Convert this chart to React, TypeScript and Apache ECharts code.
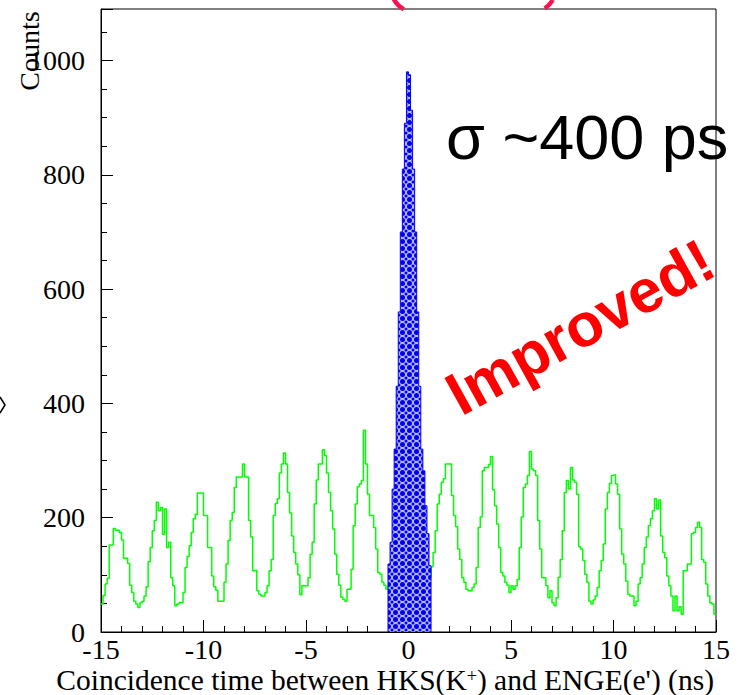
import React, { useEffect, useRef } from 'react';
import * as echarts from 'echarts';

// Histogram binning (ns)
const BIN_WIDTH = 0.1;
const GREEN_START = -15;
const BLUE_START = -1.0;

// All coincidences (green), 300 bins of 0.1 ns from -15 to 15
const greenCounts = [
  49, 64, 84, 94, 152, 152, 181, 178, 178, 174,
  161, 129, 129, 120, 82, 69, 54, 49, 43, 51,
  54, 63, 79, 123, 148, 177, 195, 227, 212, 218,
  171, 215, 148, 157, 95, 81, 46, 49, 51, 51,
  69, 113, 132, 151, 174, 198, 206, 243, 243, 243,
  204, 204, 148, 148, 98, 79, 73, 54, 54, 54,
  87, 119, 160, 195, 209, 253, 271, 271, 271, 294,
  271, 271, 195, 166, 107, 108, 72, 66, 63, 63,
  69, 81, 107, 127, 204, 225, 233, 278, 294, 313,
  294, 244, 208, 168, 139, 119, 100, 65, 81, 81,
  81, 95, 136, 157, 224, 266, 294, 294, 319, 309,
  278, 244, 212, 180, 136, 101, 82, 61, 57, 54,
  75, 75, 110, 186, 224, 254, 259, 265, 353, 294,
  241, 204, 204, 183, 145, 104, 101, 87, 82, 75,
  80, 84, 88, 92, 95, 98, 100, 100, 100, 100,
  100, 100, 100, 100, 100, 100, 98, 98, 97, 96,
  96, 114, 139, 177, 224, 241, 262, 268, 294, 294,
  294, 239, 204, 184, 145, 127, 95, 87, 75, 72,
  72, 78, 84, 113, 183, 201, 282, 288, 288, 293,
  307, 249, 221, 189, 148, 104, 98, 87, 82, 69,
  81, 75, 81, 92, 148, 201, 253, 259, 274, 316,
  285, 282, 274, 195, 145, 95, 95, 81, 60, 72,
  51, 46, 60, 96, 127, 177, 244, 265, 250, 288,
  266, 262, 241, 149, 145, 125, 101, 87, 54, 49,
  56, 63, 78, 107, 125, 154, 215, 244, 260, 274,
  275, 259, 241, 180, 136, 119, 89, 66, 63, 63,
  46, 54, 84, 95, 119, 148, 166, 186, 198, 212,
  233, 215, 231, 168, 139, 130, 98, 81, 63, 37,
  63, 37, 44, 31, 107, 107, 119, 119, 172, 174,
  183, 192, 183, 127, 122, 84, 63, 51, 49, 31,
];

// True coincidence peak (blue), bins of 0.1 ns from -1.0
const blueCounts = [
  119, 157, 250, 320, 430, 560, 700, 810, 890, 980,
  975, 913, 810, 700, 560, 430, 320, 282, 221, 172,
  116,
];

const X_MIN = -15;
const X_MAX = 15;
const Y_MAX = 1090;

const App: React.FC = () => {
  const ref = useRef<HTMLDivElement>(null);

  useEffect(() => {
    if (!ref.current) return;
    const chart = echarts.init(ref.current, undefined, { renderer: 'svg' });

    const tile = document.createElement('canvas');
    tile.width = 7;
    tile.height = 7;
    const ctx = tile.getContext('2d')!;
    ctx.fillStyle = '#b4b4ff';
    ctx.fillRect(0, 0, 7, 7);
    ctx.fillStyle = '#0000ee';
    ctx.beginPath();
    ctx.arc(3.5, 3.5, 2.5, 0, Math.PI * 2);
    ctx.fill();
    for (const [cx, cy] of [[0, 0], [7, 0], [0, 7], [7, 7]]) {
      ctx.beginPath();
      ctx.arc(cx, cy, 1.5, 0, Math.PI * 2);
      ctx.fill();
    }

    const greenData: number[][] = greenCounts.map((c, i) => [GREEN_START + i * BIN_WIDTH, c]);
    greenData.push([GREEN_START + greenCounts.length * BIN_WIDTH, greenCounts[greenCounts.length - 1]]);

    const blueEnd = BLUE_START + blueCounts.length * BIN_WIDTH;
    const blueData: number[][] = [[BLUE_START, 0]];
    blueCounts.forEach((c, i) => blueData.push([BLUE_START + i * BIN_WIDTH, c]));
    blueData.push([blueEnd, blueCounts[blueCounts.length - 1]]);
    blueData.push([blueEnd, 0]);

    const serif = '"Liberation Serif", "Times New Roman", serif';
    const sans = '"Liberation Sans", Arial, sans-serif';

    chart.setOption({
      animation: false,
      backgroundColor: '#ffffff',
      grid: {
        left: 101, top: 9, width: 615, height: 623,
        show: true, borderColor: '#000', borderWidth: 1, backgroundColor: 'transparent',
      },
      xAxis: {
        type: 'value', min: X_MIN, max: X_MAX, interval: 5,
        axisLine: { show: true, onZero: false, lineStyle: { color: '#000', width: 1 } },
        axisTick: { show: true, inside: true, length: 12, lineStyle: { color: '#000' } },
        minorTick: { show: true, splitNumber: 5, length: 6, lineStyle: { color: '#000' } },
        axisLabel: { fontFamily: serif, fontSize: 28, color: '#000', margin: 3 },
        splitLine: { show: false },
      },
      yAxis: [
        {
          type: 'value', min: 0, max: Y_MAX, interval: 200, position: 'left',
          axisLine: { show: true, onZero: false, lineStyle: { color: '#000', width: 1 } },
          axisTick: { show: true, inside: true, length: 12, lineStyle: { color: '#000' } },
          axisLabel: {
            fontFamily: serif, fontSize: 28, color: '#000', margin: 16,
            formatter: (v: number) => (v % 200 === 0 ? String(v) : ''),
          },
          splitLine: { show: false },
        },
        {
          type: 'value', min: 0, max: Y_MAX, interval: 50, position: 'left', offset: 0,
          axisLine: { show: false, onZero: false },
          axisTick: { show: true, inside: true, length: 6, lineStyle: { color: '#000' } },
          axisLabel: { show: false },
          splitLine: { show: false },
        },
      ],
      series: [
        {
          type: 'line', step: 'end', data: greenData, symbol: 'none', silent: true,
          lineStyle: { color: '#00ff00', width: 1.5 }, z: 2,
        },
        {
          type: 'line', step: 'end', data: blueData, symbol: 'none', silent: true,
          lineStyle: { color: '#0000ff', width: 1 },
          areaStyle: { color: { image: tile, repeat: 'repeat', imageWidth: 7, imageHeight: 7 } as any, opacity: 1 },
          z: 3,
        },
      ],
      graphic: [
        {
          type: 'text', x: 29, y: 51, rotation: Math.PI / 2, z: 10,
          style: { text: 'Counts', font: `28px ${serif}`, fill: '#000', align: 'center', verticalAlign: 'middle' },
        },
        {
          type: 'text', x: 714, y: 680, z: 10,
          style: {
            text: "Coincidence time between HKS(K{sup|+}) and ENGE(e') (ns)",
            font: `29.5px ${serif}`, fill: '#000', align: 'right', verticalAlign: 'middle', lineHeight: 26,
            rich: { sup: { fontSize: 18, fontFamily: serif, verticalAlign: 'top', fill: '#000', lineHeight: 26 } },
          },
        },
        {
          type: 'text', x: 446, y: 137, z: 10,
          style: { text: 'σ ~400 ps', font: `63px ${sans}`, fill: '#000', align: 'left', verticalAlign: 'middle' },
        },
        {
          type: 'text', x: 580, y: 327, rotation: (29 * Math.PI) / 180, z: 10,
          style: { text: 'Improved!', font: `bold 61px ${sans}`, fill: '#ff0000', align: 'center', verticalAlign: 'middle' },
        },
        {
          type: 'arc', z: 10,
          shape: { cx: 415, cy: -12, r: 24, startAngle: (118 * Math.PI) / 180, endAngle: (152 * Math.PI) / 180, clockwise: true },
          style: { stroke: '#ff1050', lineWidth: 4.5, fill: 'none' },
        },
        {
          type: 'arc', z: 10,
          shape: { cx: 532, cy: -12, r: 24, startAngle: (30 * Math.PI) / 180, endAngle: (58 * Math.PI) / 180, clockwise: true },
          style: { stroke: '#ff1050', lineWidth: 4.5, fill: 'none' },
        },
        {
          type: 'polyline', z: 10,
          shape: { points: [[0, 397], [5, 405], [0, 413]] },
          style: { stroke: '#000', lineWidth: 1.5, fill: 'none' },
        },
      ],
    });

    return () => chart.dispose();
  }, []);

  return (
    <div
      ref={ref}
      style={{ position: 'fixed', left: 0, top: 0, width: 738, height: 695, background: '#fff' }}
    />
  );
};

export default App;
